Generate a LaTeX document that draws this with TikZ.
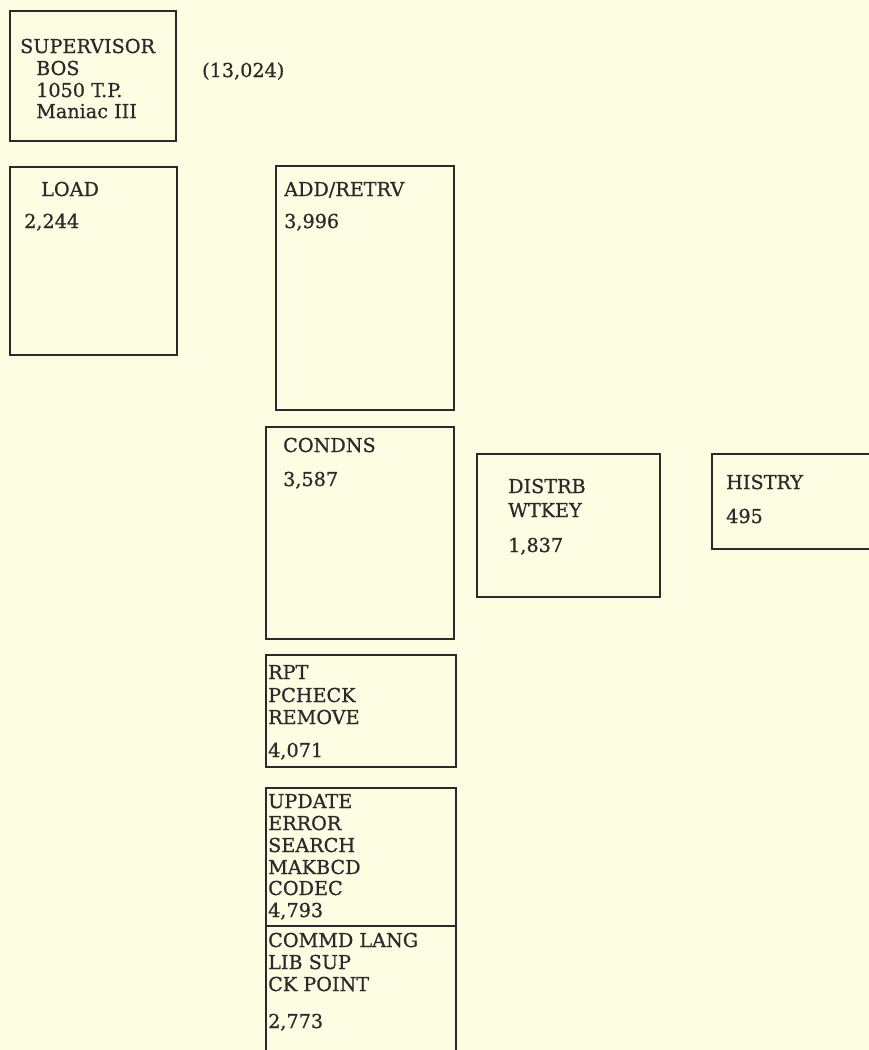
\documentclass[tikz,border=0pt]{standalone}
\usepackage{fontspec}
\setmainfont[FakeBold=0.7,AutoFakeBold=0.7]{DejaVu Serif}
\definecolor{paper}{HTML}{FDFDE3}
\definecolor{ink}{HTML}{2A2A2A}
\begin{document}
\begin{tikzpicture}[x=1pt,y=-1pt,
  box/.style={draw=ink,line width=2pt,anchor=north west,inner sep=0pt},
  lbl/.style={anchor=base west,inner sep=0pt,text=ink,font=\fontsize{19.2}{22}\selectfont}]
\fill[paper] (0,0) rectangle (869,1050);
\useasboundingbox (0,0) rectangle (869,1050);
% boxes
\node[box,minimum width=166pt,minimum height=130pt] (sup) at (9,10) {};
\node[box,minimum width=167pt,minimum height=188pt] (load) at (9,166) {};
\node[box,minimum width=178pt,minimum height=244pt] (add) at (275,165) {};
\node[box,minimum width=188pt,minimum height=212pt] (cond) at (265,426) {};
\node[box,minimum width=183pt,minimum height=143pt] (dist) at (476,453) {};
\node[box,minimum width=166pt,minimum height=95pt] (hist) at (711,453) {};
\node[box,minimum width=190pt,minimum height=112pt] (rpt) at (265,654) {};
\node[box,minimum width=190pt,minimum height=138pt] (upd) at (265,787) {};
\node[box,minimum width=190pt,minimum height=135pt] (cmd) at (265,925) {};
% texts
\node[lbl] (t1) at (20,53) {SUPERVISOR};
\node[lbl] (t2) at (36,75) {BOS};
\node[lbl] (t3) at (36,97) {1050 T.P.};
\node[lbl] (t4) at (36,118) {Maniac III};
\node[lbl] (t5) at (202,77) {(13,024)};
\node[lbl] (t6) at (41,196) {LOAD};
\node[lbl] (t7) at (24,228) {2,244};
\node[lbl] (t8) at (284,196) {ADD/RETRV};
\node[lbl] (t9) at (284,228) {3,996};
\node[lbl] (t10) at (283,452) {CONDNS};
\node[lbl] (t11) at (283,486) {3,587};
\node[lbl] (t12) at (508,493) {DISTRB};
\node[lbl] (t13) at (508,517) {WTKEY};
\node[lbl] (t14) at (508,552) {1,837};
\node[lbl] (t15) at (726,489) {HISTRY};
\node[lbl] (t16) at (726,523) {495};
\node[lbl] (t17) at (268,679) {RPT};
\node[lbl] (t18) at (268,702) {PCHECK};
\node[lbl] (t19) at (268,724) {REMOVE};
\node[lbl] (t20) at (268,757) {4,071};
\node[lbl] (t21) at (268,808) {UPDATE};
\node[lbl] (t22) at (268,830) {ERROR};
\node[lbl] (t23) at (268,852) {SEARCH};
\node[lbl] (t24) at (268,874) {MAKBCD};
\node[lbl] (t25) at (268,895) {CODEC};
\node[lbl] (t26) at (268,917) {4,793};
\node[lbl] (t27) at (268,947) {COMMD LANG};
\node[lbl] (t28) at (268,969) {LIB SUP};
\node[lbl] (t29) at (268,991) {CK POINT};
\node[lbl] (t30) at (268,1028) {2,773};
\end{tikzpicture}
\end{document}
